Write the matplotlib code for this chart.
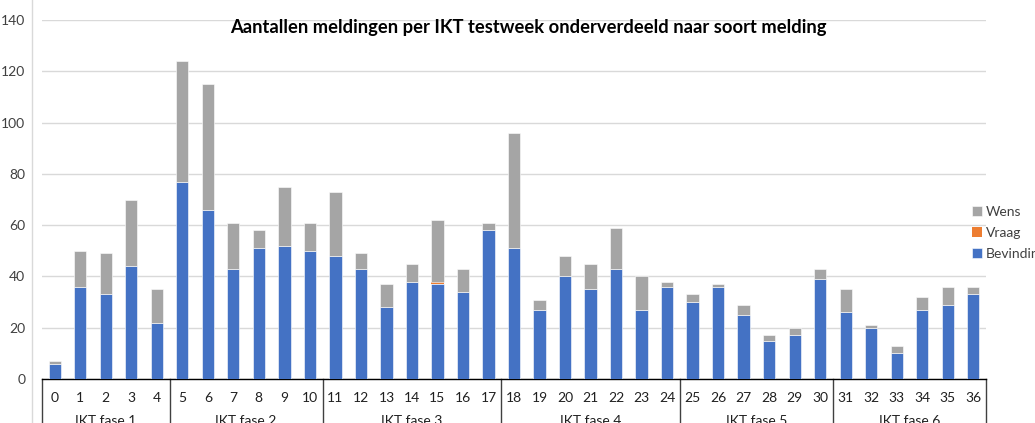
import matplotlib
matplotlib.use("Agg")
import matplotlib.pyplot as plt
import numpy as np

weeks = [str(i) for i in range(37)]
bevinding = [6, 36, 33, 44, 22, 77, 66, 43, 51, 52, 50, 48, 43, 28, 38, 37, 34, 58,
             51, 27, 40, 35, 43, 27, 36, 30, 36, 25, 15, 17, 39, 26, 20, 10, 27, 29, 33]
vraag = [0]*15 + [1] + [0]*21
wens = [1, 14, 16, 26, 13, 47, 49, 18, 7, 23, 11, 25, 6, 9, 7, 24, 9, 3,
        45, 4, 8, 10, 16, 13, 2, 3, 1, 4, 2, 3, 4, 9, 1, 3, 5, 7, 3]
phases = ["IKT fase 1", "IKT fase 2", "IKT fase 3", "IKT fase 4", "IKT fase 5", "IKT fase 6"]
phase_sizes = [5, 6, 7, 7, 6, 6]
title = "Aantallen meldingen per IKT testweek onderverdeeld naar soort melding"

plt.rcParams['font.family'] = ['Lato', 'DejaVu Sans']

fig = plt.figure(figsize=(10.35, 4.23), dpi=100)
ax = fig.add_axes([42/1035, 1-379/423, (986-42)/1035, (379-20)/423])

x = np.arange(len(weeks))
b = np.array(bevinding); v = np.array(vraag); w = np.array(wens)
blue, orange, gray = "#4472C4", "#ED7D31", "#A5A5A5"
bw = 0.48
h1 = ax.bar(x, b, bw, color=blue, edgecolor="white", linewidth=0.4, label="Bevinding", zorder=3)
h2 = ax.bar(x, v, bw, bottom=b, color=orange, edgecolor="none", label="Vraag", zorder=3)
h3 = ax.bar(x, w, bw, bottom=b+v, color=gray, edgecolor="white", linewidth=0.4, label="Wens", zorder=3)

ax.set_xlim(-0.5, len(weeks)-0.5)
ax.set_ylim(0, 140)
ax.set_yticks(range(0, 141, 20))
ax.yaxis.grid(True, color="#D9D9D9", linewidth=1, zorder=0)
ax.set_axisbelow(True)
for s in ["top", "right", "left"]:
    ax.spines[s].set_visible(False)
ax.spines["bottom"].set_color("#000000")
ax.spines["bottom"].set_linewidth(1)
ax.tick_params(axis="y", length=0, pad=12, labelsize=10, labelcolor="#404040")
ax.tick_params(axis="x", length=0, pad=9, labelsize=10, labelcolor="#202020")
ax.set_xticks(x)
ax.set_xticklabels(weeks)

# multi-level category separators and group labels
bounds = np.concatenate([[0], np.cumsum(phase_sizes)]) - 0.5
tr = matplotlib.transforms.blended_transform_factory(ax.transData, ax.transAxes)
for bx in bounds:
    ax.plot([bx, bx], [0, -0.2], transform=tr, color="#404040", linewidth=1, clip_on=False)
for i, name in enumerate(phases):
    cx = (bounds[i] + bounds[i+1]) / 2
    ax.text(cx, -0.1, name, transform=tr, ha="center", va="top", fontsize=10, color="#202020")

# chart-area left border line
fig.add_artist(plt.Line2D([32/1035, 32/1035], [0, 1], transform=fig.transFigure,
                          color="#D9D9D9", linewidth=1))

fig.text(528/1035, 1-28/423, title, ha="center", va="center", fontsize=13.2,
         fontweight="bold", color="#000000")

leg = fig.legend([h3, h2, h1], ["Wens", "Vraag", "Bevinding"], loc="upper left",
                 bbox_to_anchor=(972/1035, 1-206/423), frameon=False, fontsize=10,
                 handlelength=0.7, handleheight=0.7, handletextpad=0.3, labelspacing=0.65,
                 borderaxespad=0, borderpad=0)
for t in leg.get_texts():
    t.set_color("#404040")

fig.savefig("out.png", dpi=100)
